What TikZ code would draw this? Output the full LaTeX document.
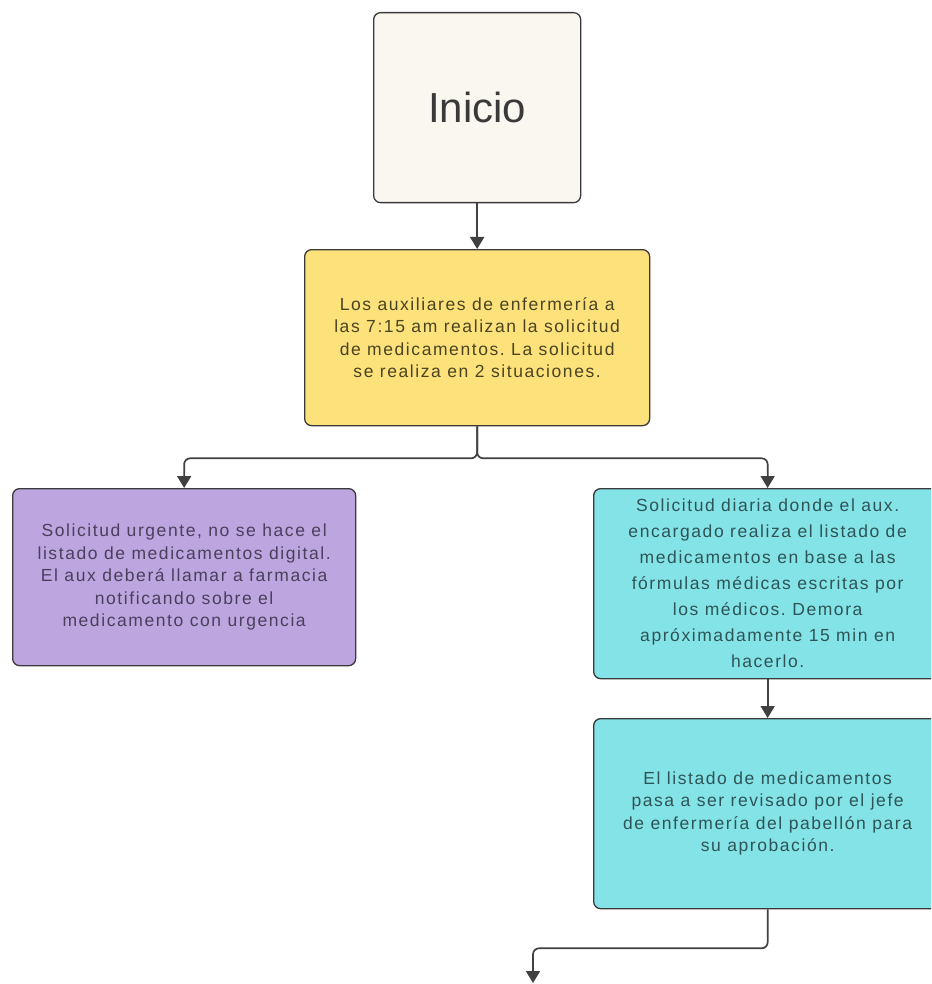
\documentclass[tikz,border=0pt]{standalone}
\usepackage{fontspec}
\setmainfont{Liberation Sans}
\usetikzlibrary{arrows.meta}
\definecolor{boxline}{HTML}{3A3A3A}
\definecolor{lineclr}{HTML}{404040}
\definecolor{inicfill}{HTML}{FAF6F0}
\definecolor{yelfill}{HTML}{FDE27B}
\definecolor{purfill}{HTML}{BDA6DF}
\definecolor{cyanfill}{HTML}{84E3E6}
\definecolor{yeltext}{HTML}{4A4422}
\definecolor{purtext}{HTML}{4A3F5C}
\definecolor{cyantext}{HTML}{2E5457}
\definecolor{inictext}{HTML}{3A3A3A}
\begin{document}
\frenchspacing
\begin{tikzpicture}[x=1pt,y=-1pt,
 box/.style={draw=boxline, line width=1.3pt, rounded corners=7pt, inner sep=0pt, anchor=north west, align=center},
 conn/.style={draw=lineclr, line width=1.7pt, rounded corners=6pt, -{Triangle[width=14pt,length=12pt]}},
 txt/.style={font=\fontsize{17.5}{22.5}\selectfont\addfontfeatures{LetterSpace=9}\frenchspacing},
 txtwide/.style={font=\fontsize{17.5}{26}\selectfont\addfontfeatures{LetterSpace=9}\frenchspacing}]
\path[use as bounding box] (0,0) rectangle (931,984);
\clip (0,0) rectangle (931,984);
\fill[white] (0,0) rectangle (931,984);

\node[box, fill=inicfill, text=inictext, minimum width=207pt, minimum height=190pt, font=\fontsize{42}{48}\selectfont] (inicio) at (373,12) {Inicio};

\node[box, txt, fill=yelfill, text=yeltext, minimum width=345pt, minimum height=176pt] (yellow) at (304,249)
 {Los auxiliares de enfermería a\\las 7:15 am realizan la solicitud\\de medicamentos. La solicitud\\se realiza en 2 situaciones.};

\node[box, txt, fill=purfill, text=purtext, minimum width=343pt, minimum height=177pt] (purple) at (12,488)
 {Solicitud urgente, no se hace el\\listado de medicamentos digital.\\El aux deberá llamar a farmacia\\notificando sobre el\\medicamento con urgencia};

\node[box, txtwide, fill=cyanfill, text=cyantext, minimum width=348pt, minimum height=190pt] (cyan1) at (593,488)
 {Solicitud diaria donde el aux.\\encargado realiza el listado de\\medicamentos en base a las\\fórmulas médicas escritas por\\los médicos. Demora\\apróximadamente 15 min en\\hacerlo.};

\node[box, txt, fill=cyanfill, text=cyantext, minimum width=348pt, minimum height=190pt] (cyan2) at (593,718)
 {El listado de medicamentos\\pasa a ser revisado por el jefe\\de enfermería del pabellón para\\su aprobación.};

\coordinate (endpt) at (533,983);

\draw[conn] (inicio.south) -- (inicio.south |- yellow.north);
\draw[conn] (yellow.south) -- ++(0,32) -| (purple.north);
\draw[conn] (yellow.south) -- ++(0,32) -| (cyan1.north);
\draw[conn] (cyan1.south) -- (cyan2.north);
\draw[conn] (cyan2.south) -- ++(0,39) -| (endpt);
\end{tikzpicture}
\end{document}
